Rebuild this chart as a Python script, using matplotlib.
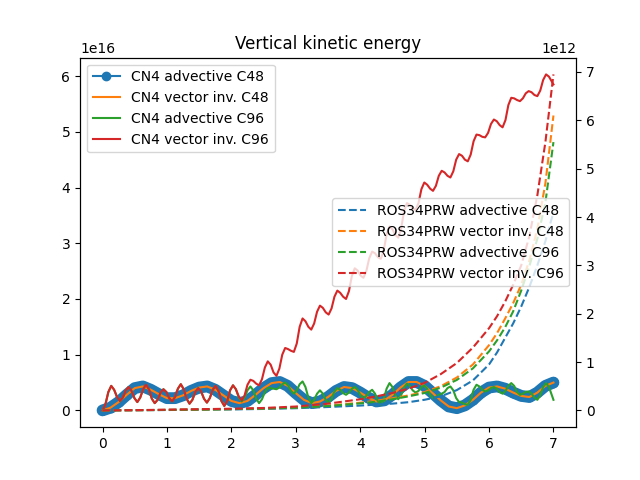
import numpy as np
import matplotlib
matplotlib.use("Agg")
import matplotlib.pyplot as plt

# time grids (model output times)
t_slow = np.arange(57) * 0.125
t_fast = np.append(np.arange(155) * 0.045, 7.0)
t_ros = [0, 0.5, 1, 1.5, 2, 2.5, 3, 3.5, 4, 4.25, 4.5, 4.75, 5, 5.25, 5.5, 5.75,
         6, 6.125, 6.25, 6.375, 6.5, 6.625, 6.75, 6.875, 7]

# CN4 runs, units of 1e16
cn4_adv_c48 = [0.00, 0.05, 0.15, 0.28, 0.40, 0.43, 0.37, 0.29, 0.22,
               0.22, 0.27, 0.35, 0.41, 0.43, 0.37, 0.27, 0.17,
               0.13, 0.17, 0.28, 0.40, 0.49, 0.51, 0.44, 0.31,
               0.19, 0.13, 0.16, 0.24, 0.35, 0.42, 0.40, 0.32,
               0.23, 0.16, 0.18, 0.28, 0.41, 0.51, 0.51, 0.44,
               0.31, 0.18, 0.07, 0.04, 0.09, 0.19, 0.32, 0.41,
               0.43, 0.39, 0.32, 0.26, 0.24, 0.32, 0.44, 0.50]
cn4_vec_c48 = [0.00, 0.05, 0.15, 0.28, 0.40, 0.43, 0.37, 0.29, 0.22,
               0.22, 0.27, 0.35, 0.41, 0.43, 0.37, 0.27, 0.17,
               0.13, 0.17, 0.28, 0.40, 0.49, 0.51, 0.44, 0.31,
               0.19, 0.13, 0.16, 0.24, 0.35, 0.42, 0.40, 0.32,
               0.23, 0.16, 0.18, 0.28, 0.41, 0.51, 0.51, 0.44,
               0.31, 0.18, 0.07, 0.04, 0.09, 0.19, 0.32, 0.41,
               0.43, 0.39, 0.32, 0.26, 0.24, 0.32, 0.44, 0.50]
cn4_adv_c96 = [0.00, 0.11, 0.33, 0.44, 0.37, 0.24,
               0.17, 0.23, 0.36, 0.42, 0.35, 0.22,
               0.15, 0.23, 0.38, 0.46, 0.38, 0.21,
               0.13, 0.19, 0.32, 0.38, 0.33, 0.22,
               0.16, 0.24, 0.39, 0.47, 0.38, 0.21,
               0.12, 0.19, 0.33, 0.40, 0.34, 0.21,
               0.14, 0.22, 0.37, 0.44, 0.35, 0.17,
               0.08, 0.17, 0.36, 0.45, 0.38, 0.23,
               0.16, 0.23, 0.36, 0.43, 0.36, 0.21,
               0.13, 0.20, 0.33, 0.40, 0.40, 0.39,
               0.38, 0.41, 0.47, 0.50, 0.45, 0.35,
               0.30, 0.36, 0.47, 0.52, 0.42, 0.23,
               0.13, 0.19, 0.30, 0.36, 0.30, 0.19,
               0.14, 0.21, 0.34, 0.40, 0.37, 0.31,
               0.28, 0.32, 0.39, 0.42, 0.37, 0.27,
               0.22, 0.26, 0.33, 0.37, 0.30, 0.17,
               0.10, 0.20, 0.39, 0.49, 0.42, 0.27,
               0.20, 0.27, 0.41, 0.48, 0.44, 0.36,
               0.32, 0.35, 0.42, 0.45, 0.39, 0.28,
               0.22, 0.24, 0.28, 0.30, 0.33, 0.40,
               0.43, 0.36, 0.22, 0.15, 0.14, 0.11,
               0.10, 0.19, 0.37, 0.46, 0.43, 0.37,
               0.34, 0.36, 0.40, 0.42, 0.39, 0.33,
               0.30, 0.35, 0.44, 0.49, 0.44, 0.33,
               0.28, 0.30, 0.33, 0.34, 0.30, 0.23,
               0.19, 0.27, 0.42, 0.49, 0.42, 0.19]
cn4_vec_c96 = [0.00, 0.11, 0.33, 0.44, 0.37, 0.24,
               0.17, 0.23, 0.36, 0.42, 0.35, 0.22,
               0.15, 0.23, 0.38, 0.46, 0.38, 0.21,
               0.13, 0.19, 0.32, 0.38, 0.33, 0.22,
               0.16, 0.24, 0.39, 0.47, 0.38, 0.21,
               0.12, 0.19, 0.33, 0.40, 0.34, 0.21,
               0.14, 0.22, 0.37, 0.44, 0.35, 0.17,
               0.08, 0.17, 0.36, 0.45, 0.38, 0.25,
               0.18, 0.27, 0.46, 0.55, 0.53, 0.48,
               0.45, 0.56, 0.77, 0.88, 0.82, 0.68,
               0.62, 0.75, 1.00, 1.12, 1.10, 1.07,
               1.05, 1.20, 1.50, 1.65, 1.60, 1.50,
               1.45, 1.56, 1.77, 1.88, 1.84, 1.76,
               1.72, 1.83, 2.04, 2.15, 2.11, 2.04,
               2.00, 2.14, 2.41, 2.55, 2.51, 2.42,
               2.38, 2.50, 2.73, 2.85, 2.82, 2.75,
               2.72, 2.87, 3.16, 3.30, 3.25, 3.15,
               3.10, 3.26, 3.57, 3.72, 3.69, 3.63,
               3.60, 3.72, 3.97, 4.09, 4.05, 3.98,
               3.94, 4.03, 4.21, 4.30, 4.27, 4.21,
               4.18, 4.29, 4.50, 4.60, 4.57, 4.50,
               4.47, 4.59, 4.83, 4.95, 4.94, 4.91,
               4.90, 4.98, 5.14, 5.22, 5.19, 5.12,
               5.08, 5.21, 5.48, 5.61, 5.60, 5.57,
               5.55, 5.60, 5.69, 5.73, 5.71, 5.66,
               5.64, 5.74, 5.93, 6.03, 5.99, 5.85]

# ROS34PRW runs, units of 1e12
ros_adv_c48 = [0, 0.003, 0.008, 0.013, 0.02, 0.03, 0.045, 0.07, 0.1, 0.12, 0.14, 0.17,
               0.22, 0.29, 0.42, 0.62, 0.95, 1.2, 1.5, 1.8, 2.15, 2.55, 3.0, 3.5, 4.1]
ros_vec_c48 = [0, 0.004, 0.01, 0.018, 0.027, 0.04, 0.06, 0.1, 0.16, 0.2, 0.25, 0.31,
               0.38, 0.5, 0.68, 0.95, 1.35, 1.6, 1.9, 2.22, 2.6, 3.1, 3.75, 4.7, 6.1]
ros_adv_c96 = [0, 0.004, 0.01, 0.017, 0.026, 0.038, 0.057, 0.09, 0.145, 0.18, 0.23, 0.29,
               0.36, 0.47, 0.63, 0.87, 1.22, 1.45, 1.72, 2.05, 2.48, 2.98, 3.55, 4.3, 5.55]
ros_vec_c96 = [0, 0.005, 0.015, 0.025, 0.035, 0.05, 0.08, 0.14, 0.23, 0.29, 0.36, 0.45,
               0.57, 0.75, 0.98, 1.3, 1.7, 1.95, 2.25, 2.6, 3.0, 3.6, 4.45, 5.55, 6.95]

s16 = 1e16
s12 = 1e12

fig, ax = plt.subplots(figsize=(6.4, 4.8), dpi=100)

# thick band under the dense markers of the advective C48 run
ax.plot(t_slow, np.array(cn4_adv_c48) * s16, color='C0', lw=8.5, solid_capstyle='round')
ax.plot(t_slow, np.array(cn4_adv_c48) * s16, '-o', color='C0', ms=6, label='CN4 advective C48')
ax.plot(t_slow, np.array(cn4_vec_c48) * s16, color='C1', label='CN4 vector inv. C48')
ax.plot(t_fast, np.array(cn4_adv_c96) * s16, color='C2', label='CN4 advective C96')
ax.plot(t_fast, np.array(cn4_vec_c96) * s16, color='C3', label='CN4 vector inv. C96')
ax.legend(loc='upper left')

ax2 = ax.twinx()
ax2.plot(t_ros, np.array(ros_adv_c48) * s12, '--', color='C0', label='ROS34PRW advective C48')
ax2.plot(t_ros, np.array(ros_vec_c48) * s12, '--', color='C1', label='ROS34PRW vector inv. C48')
ax2.plot(t_ros, np.array(ros_adv_c96) * s12, '--', color='C2', label='ROS34PRW advective C96')
ax2.plot(t_ros, np.array(ros_vec_c96) * s12, '--', color='C3', label='ROS34PRW vector inv. C96')
ax2.legend(loc='center right')

ax.set_title('Vertical kinetic energy')

fig.savefig('out.png')
